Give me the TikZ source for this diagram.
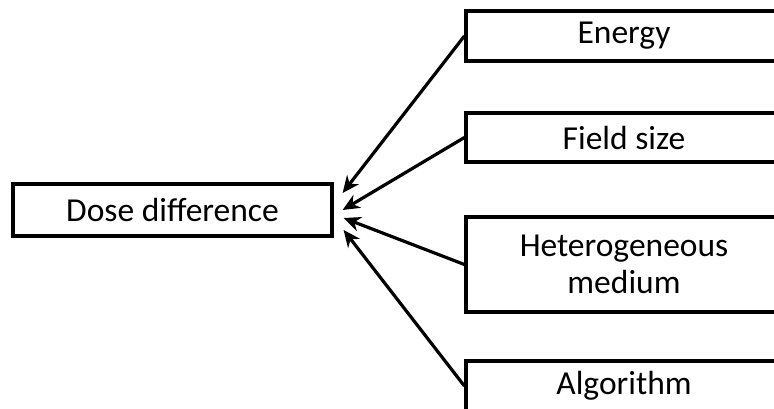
\documentclass[tikz,border=0pt]{standalone}
\usepackage{fontspec}
\setmainfont{Carlito}
\usetikzlibrary{arrows.meta,positioning,calc}

\begin{document}
\begin{tikzpicture}[
    x=1pt, y=1pt,
    box/.style={rectangle, draw, line width=3.2pt, minimum width=316pt, minimum height=50pt, align=center, font=\fontsize{33.5}{37}\selectfont, inner sep=0pt},
    arrow/.style={-{Stealth[length=17pt,width=15pt]}, line width=3.2pt},
]
    \useasboundingbox (0,0) rectangle (774,408);
    \node[box, minimum width=319pt, minimum height=52pt] (dose) at (172.5,198) {Dose difference};
    \node[box] (energy) at (624,372) {Energy};
    \node[box, minimum height=49pt] (field) at (624,270.5) {Field size};
    \node[box, minimum height=95pt] (medium) at (624,143.5) {Heterogeneous\\medium};
    \node[box] (algo) at (624,22) {Algorithm};
    \draw[arrow] (energy.west) -- ([xshift=9pt,yshift=17pt]dose.east);
    \draw[arrow] (field.west) -- ([xshift=9pt]dose.east);
    \draw[arrow] (medium.west) -- ([xshift=10pt,yshift=-8pt]dose.east);
    \draw[arrow] (algo.west) -- ([xshift=10pt,yshift=-20pt]dose.east);
\end{tikzpicture}
\end{document}
